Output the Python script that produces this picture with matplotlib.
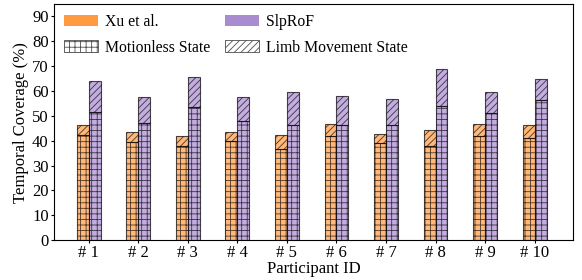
import numpy as np
import matplotlib
matplotlib.use("Agg")
import matplotlib.pyplot as plt
from matplotlib.patches import Patch

plt.rcParams["font.family"] = ["Liberation Serif", "DejaVu Serif"]
plt.rcParams["hatch.linewidth"] = 0.6

participants = [f"# {i}" for i in range(1, 11)]
xu_motionless = [42.3, 39.4, 37.8, 39.9, 36.8, 42.0, 39.0, 37.8, 42.0, 41.0]
xu_total = [46.2, 43.5, 42.0, 43.4, 42.3, 46.8, 42.7, 44.4, 46.8, 46.5]
slp_motionless = [51.5, 47.0, 53.6, 48.0, 46.2, 46.2, 46.2, 54.0, 51.1, 56.2]
slp_total = [64.1, 57.5, 65.6, 57.4, 59.4, 57.8, 56.7, 68.8, 59.7, 65.0]

ORANGE = "#FF9A40"
PURPLE = "#A98BD0"
W = 0.24

x = np.arange(len(participants))
xu_limb = np.array(xu_total) - np.array(xu_motionless)
slp_limb = np.array(slp_total) - np.array(slp_motionless)

fig, ax = plt.subplots(figsize=(5.82, 2.8), dpi=100)
fig.subplots_adjust(left=0.092, right=0.985, top=0.986, bottom=0.142)

for pos, mot, limb, col in [(x - W / 2, xu_motionless, xu_limb, ORANGE),
                            (x + W / 2, slp_motionless, slp_limb, PURPLE)]:
    ax.bar(pos, mot, W, color=col, alpha=0.7, edgecolor="black", hatch="+++",
           lw=0.8)
    ax.bar(pos, limb, W, bottom=mot, color=col, alpha=0.7, edgecolor="black",
           hatch="/////", lw=0.8)

ax.set_xlim(-0.71, 9.78)
ax.set_ylim(0, 95)
ax.set_yticks(range(0, 91, 10))
ax.set_xticks(x)
ax.set_xticklabels(participants)
ax.tick_params(labelsize=12, length=2, pad=1.5)
ax.set_xlabel("Participant ID", fontsize=12, labelpad=0)
ax.set_ylabel("Temporal Coverage (%)", fontsize=12, labelpad=2)

# ncol=2 fills by column, so interleave to get the rows right
handles = [
    Patch(facecolor=ORANGE, label="Xu et al."),
    Patch(facecolor="white", edgecolor="0.3", hatch="+++", lw=0.6,
          label="Motionless State"),
    Patch(facecolor=PURPLE, label="SlpRoF"),
    Patch(facecolor="white", edgecolor="0.3", hatch="/////", lw=0.6,
          label="Limb Movement State"),
]
ax.legend(handles=handles, ncol=2, loc="upper left", frameon=False,
          fontsize=11.3, handlelength=2.2, handleheight=0.75,
          columnspacing=0.9, borderaxespad=0.3, handletextpad=0.45,
          labelspacing=0.6, borderpad=0.35)

fig.savefig("out.png", dpi=100)
